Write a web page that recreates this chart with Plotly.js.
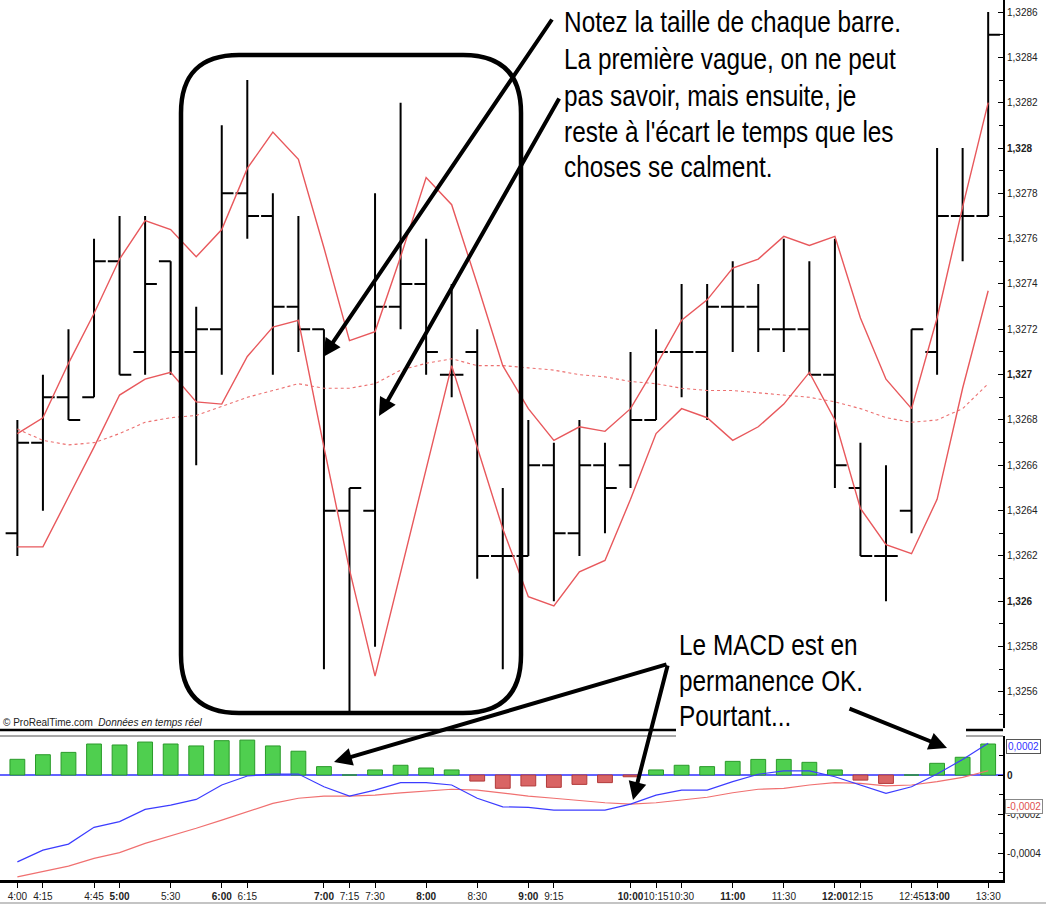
<!DOCTYPE html>
<html><head><meta charset="utf-8">
<script src="https://cdn.plot.ly/plotly-3.0.1.min.js"></script>
<style>html,body{margin:0;padding:0;background:#fff}#c{width:1046px;height:905px}</style>
</head><body><div id="c"></div>
<script>
const times = ['4:00','4:15','4:30','4:45','5:00','5:15','5:30','5:45','6:00','6:15','6:30','6:45','7:00','7:15','7:30','7:45','8:00','8:15','8:30','8:45','9:00','9:15','9:30','9:45','10:00','10:15','10:30','10:45','11:00','11:15','11:30','11:45','12:00','12:15','12:30','12:45','13:00','13:15','13:30'];
const opens  = [1.3263,1.3267,1.3269,1.3269,1.3275,1.3271,1.3275,1.3271,1.3272,1.3278,1.3277,1.3273,1.3272,1.3264,1.3264,1.3273,1.3274,1.3270,1.3271,1.3262,1.3262,1.3266,1.3263,1.3266,1.3266,1.3268,1.3271,1.3271,1.3273,1.3273,1.3272,1.3272,1.3270,1.3265,1.3262,1.3264,1.3271,1.3277,1.3277];
const highs  = [1.3268,1.3270,1.3272,1.3276,1.3277,1.3277,1.3275,1.3273,1.3281,1.3283,1.3278,1.3277,1.3272,1.3265,1.3278,1.3282,1.3276,1.3274,1.3272,1.3265,1.3268,1.3267,1.3268,1.3267,1.3271,1.3272,1.3274,1.3274,1.3275,1.3274,1.3276,1.3275,1.3276,1.3267,1.3266,1.3272,1.3280,1.3280,1.3286];
const lows   = [1.3262,1.3264,1.3268,1.3269,1.3270,1.3270,1.3270,1.3266,1.3270,1.3276,1.3270,1.3271,1.3257,1.3255,1.3258,1.3272,1.3270,1.3269,1.3261,1.3257,1.3262,1.3260,1.3262,1.3263,1.3265,1.3268,1.3269,1.3268,1.3271,1.3271,1.3271,1.3270,1.3265,1.3262,1.3260,1.3263,1.3270,1.3275,1.3277];
const closes = [1.3267,1.3269,1.3268,1.3275,1.3270,1.3274,1.3271,1.3272,1.3278,1.3277,1.3273,1.3272,1.3264,1.3265,1.3273,1.3274,1.3271,1.3270,1.3262,1.3262,1.3266,1.3263,1.3266,1.3265,1.3268,1.3271,1.3271,1.3273,1.3273,1.3272,1.3272,1.3270,1.3266,1.3262,1.3262,1.3272,1.3277,1.3277,1.3285];
const upperBand = [1.32674,1.32681,1.32705,1.32727,1.32751,1.32768,1.32764,1.32752,1.32764,1.32791,1.32807,1.32795,1.32756,1.32715,1.32719,1.32752,1.32787,1.32775,1.3274,1.32704,1.32685,1.32671,1.32677,1.32675,1.32685,1.32704,1.32724,1.32733,1.32747,1.32751,1.32761,1.32757,1.32761,1.32725,1.32698,1.32685,1.32725,1.32774,1.3282];
const lowerBand = [1.32624,1.32624,1.32646,1.32668,1.32691,1.32698,1.32701,1.32688,1.32687,1.32708,1.32721,1.32724,1.32668,1.32614,1.32567,1.32613,1.32658,1.32704,1.32668,1.32632,1.32602,1.32598,1.32613,1.32618,1.32645,1.32674,1.32685,1.32681,1.32671,1.32677,1.32687,1.32701,1.3268,1.32641,1.32625,1.32621,1.32645,1.32694,1.32737];
const slowMA = [1.32676,1.32671,1.32669,1.3267,1.32674,1.32679,1.32681,1.32682,1.32686,1.3269,1.32693,1.32696,1.32694,1.32694,1.32696,1.32702,1.32705,1.32707,1.32704,1.32704,1.32703,1.32702,1.327,1.32699,1.32697,1.32696,1.32694,1.32693,1.32693,1.32692,1.32691,1.3269,1.32688,1.32685,1.32681,1.32679,1.3268,1.32685,1.32696];
const macd = [-0.000445,-0.000385,-0.000354,-0.000268,-0.000239,-0.000176,-0.000154,-0.000125,-0.000051,-0.000005,0.000005,0.000005,-0.00006,-0.000108,-0.000077,-0.000039,-0.000039,-0.000051,-0.000119,-0.000163,-0.000166,-0.00018,-0.00018,-0.00018,-0.000149,-0.000103,-0.000077,-0.000077,-0.000034,0.000004,0.000021,0.000021,-0.000009,-0.000051,-0.000094,-0.00006,0.000005,0.00008,0.000163];
const signal = [-0.000522,-0.000496,-0.000467,-0.000427,-0.000398,-0.00035,-0.000313,-0.000273,-0.000231,-0.000188,-0.000145,-0.000119,-0.000108,-0.000108,-0.000103,-0.000091,-0.000081,-0.000073,-0.000077,-0.000094,-0.000108,-0.000119,-0.000132,-0.000142,-0.000149,-0.000142,-0.000128,-0.000114,-0.000091,-0.000073,-0.000068,-0.000051,-0.000039,-0.000043,-0.000056,-0.000051,-0.000034,-0.000012,0.000022];
const histo = [0.0000805,0.000104,0.000116,0.000159,0.000154,0.000169,0.000159,0.000149,0.000176,0.000179,0.000149,0.000122,0.000043,0,0.000026,0.00005,0.000036,0.000026,-0.000031,-0.000068,-0.000056,-0.000063,-0.000048,-0.000039,-0.000009,0.000026,0.00005,0.000043,0.00007,0.00008,0.00008,0.000065,0.000026,-0.000026,-0.000043,0,0.00006,0.000091,0.000159];
const xTickLabels = ['4:00','4:15','4:45','5:00','5:30','6:00','6:15','7:00','7:15','7:30','8:00','8:30','9:00','9:15','10:00','10:15','10:30','11:00','11:30','12:00','12:15','12:45','13:00','13:30'];
const boldXTicks = ['5:00','6:00','7:00','8:00','9:00','10:00','11:00','12:00','13:00'];
const priceTicks = [1.3256,1.3258,1.326,1.3262,1.3264,1.3266,1.3268,1.327,1.3272,1.3274,1.3276,1.3278,1.328,1.3282,1.3284,1.3286];
const priceTickText = ['1,3256','1,3258','<b>1,326</b>','1,3262','1,3264','1,3266','1,3268','<b>1,327</b>','1,3272','1,3274','1,3276','1,3278','<b>1,328</b>','1,3282','1,3284','1,3286'];
const priceMinor = [1.3255,1.3257,1.3259,1.3261,1.3263,1.3265,1.3267,1.3269,1.3271,1.3273,1.3275,1.3277,1.3279,1.3281,1.3283,1.3285];
const macdTicks = [0,-0.0002,-0.0004];
const macdTickText = ['<b>0</b>','-0,0002','-0,0004'];
const macdMinor = [0.0001,-0.0001,-0.0003,-0.0005];
const note1 = ['Notez la taille de chaque barre.','La première vague, on ne peut','pas savoir, mais ensuite, je',"reste à l'écart le temps que les",'choses se calment.'];
const note2 = ['Le MACD est en','permanence OK.','Pourtant...'];

const W=1046,H=905;
const PX=x=>x/W, PY=y=>1-y/H;
const SANS='Liberation Sans, Arial, sans-serif';

const traces = [
  {type:'scatter',mode:'lines',x:times,y:slowMA,xaxis:'x',yaxis:'y',line:{color:'#ec7070',width:1.1,dash:'dot'},hoverinfo:'skip'},
  {type:'scatter',mode:'lines',x:times,y:upperBand,xaxis:'x',yaxis:'y',line:{color:'#e8585c',width:1.4},hoverinfo:'skip'},
  {type:'scatter',mode:'lines',x:times,y:lowerBand,xaxis:'x',yaxis:'y',line:{color:'#e8585c',width:1.4},hoverinfo:'skip'},
  {type:'ohlc',x:times,open:opens,high:highs,low:lows,close:closes,xaxis:'x',yaxis:'y',tickwidth:0.46,
   increasing:{line:{color:'#000',width:2}},decreasing:{line:{color:'#000',width:2}},hoverinfo:'skip'},
  {type:'bar',x:times,y:histo,xaxis:'x',yaxis:'y2',width:0.58,
   marker:{color:histo.map(v=>v>=0?'#4fcf4f':'#d96464'),line:{color:histo.map(v=>v>=0?'#2a9a2a':'#b23a3a'),width:1}},hoverinfo:'skip'},
  {type:'scatter',mode:'lines',x:times,y:signal,xaxis:'x',yaxis:'y2',line:{color:'#f07070',width:1.2},hoverinfo:'skip'},
  {type:'scatter',mode:'lines',x:times,y:macd,xaxis:'x',yaxis:'y2',line:{color:'#3c3cff',width:1.2},hoverinfo:'skip'}
];

const r=58, L=181, R=521, T=55, B=713;
const P=(x,y)=>PX(x).toFixed(5)+','+PY(y).toFixed(5);
const rectPath = 'M'+P(L+r,T)+' L'+P(R-r,T)+' Q'+P(R,T)+' '+P(R,T+r)+' L'+P(R,B-r)+' Q'+P(R,B)+' '+P(R-r,B)+
  ' L'+P(L+r,B)+' Q'+P(L,B)+' '+P(L,B-r)+' L'+P(L,T+r)+' Q'+P(L,T)+' '+P(L+r,T)+' Z';

const hline=(x0,x1,y,color,w)=>({type:'line',xref:'paper',yref:'paper',x0:PX(x0),x1:PX(x1),y0:PY(y),y1:PY(y),line:{color:color,width:w}});
const shapes = [
  {type:'line',xref:'paper',x0:0,x1:PX(1003),yref:'y2',y0:0,y1:0,line:{color:'#2f2fff',width:1.3},layer:'below'},
  hline(0,676,730,'#000',2.5), hline(0,676,736,'#8a8a8a',1.5),
  hline(966,1003,730,'#000',2.5), hline(966,1003,736,'#8a8a8a',1.5),
  hline(0,1046,903,'#b0b0b0',1.5),
  {type:'path',xref:'paper',yref:'paper',path:rectPath,line:{color:'#000',width:4.5}}
];

const arrow=(hx,hy,tx,ty)=>({xref:'paper',yref:'paper',x:PX(hx),y:PY(hy),ax:tx-hx,ay:ty-hy,text:'',showarrow:true,
  arrowhead:2,arrowsize:0.9,arrowwidth:4,arrowcolor:'#000',standoff:0,startstandoff:0});
const annotations = [
  arrow(323,357,553,18), arrow(379,416,560,97), arrow(334,762,668,664), arrow(633,800,668,664), arrow(947,748,848,708),
  {xref:'paper',yref:'paper',x:PX(1),y:PY(722),xanchor:'left',yanchor:'middle',showarrow:false,
   text:'© ProRealTime.com  <i>Données en temps réel</i>',font:{family:SANS,size:10,color:'#222'}},
  {xref:'paper',yref:'paper',x:PX(1006),y:PY(746),xanchor:'left',yanchor:'middle',showarrow:false,text:'0,0002',
   font:{family:SANS,size:10,color:'#3030ff'},bgcolor:'#fff',bordercolor:'#555',borderwidth:1,borderpad:1},
  {xref:'paper',yref:'paper',x:PX(1005),y:PY(806),xanchor:'left',yanchor:'middle',showarrow:false,text:'-0,0002',
   font:{family:SANS,size:10,color:'#e05050'},bgcolor:'#fff',bordercolor:'#888',borderwidth:1,borderpad:1}
];
const n1y=[22,59,96,132,167];
note1.forEach((t,i)=>annotations.push({xref:'paper',yref:'paper',x:PX(562),y:PY(n1y[i]),xanchor:'left',yanchor:'middle',
  showarrow:false,text:t,font:{family:SANS,size:29,color:'#000'}}));
const n2y=[645,681,716];
note2.forEach((t,i)=>annotations.push({xref:'paper',yref:'paper',x:PX(677),y:PY(n2y[i]),xanchor:'left',yanchor:'middle',
  showarrow:false,text:t,font:{family:SANS,size:29,color:'#000'}}));

const layout = {
  width:W,height:H,margin:{l:0,r:0,t:0,b:0},paper_bgcolor:'#fff',plot_bgcolor:'#fff',showlegend:false,
  font:{family:SANS,size:10,color:'#222'},
  xaxis:{type:'category',categoryorder:'array',categoryarray:times,domain:[0,PX(1003)],anchor:'y2',range:[-0.68,38.58],
    tickmode:'array',tickvals:xTickLabels,ticktext:xTickLabels.map(t=>boldXTicks.includes(t)?'<b>'+t+'</b>':t),tickangle:0,
    ticks:'outside',ticklen:5,tickcolor:'#000',tickwidth:1,showline:true,linecolor:'#000',linewidth:2.5,
    showgrid:false,zeroline:false,rangeslider:{visible:false},tickfont:{family:SANS,size:10,color:'#222'},fixedrange:true},
  yaxis:{domain:[PY(728),1],anchor:'x',side:'right',range:[1.325441,1.328653],tickmode:'array',tickvals:priceTicks,ticktext:priceTickText,
    ticks:'inside',ticklen:5,tickcolor:'#000',showline:true,linecolor:'#000',linewidth:2,showgrid:false,zeroline:false,
    minor:{tickvals:priceMinor,ticks:'inside',ticklen:4,tickcolor:'#000'},tickfont:{family:SANS,size:10,color:'#222'},fixedrange:true},
  yaxis2:{domain:[PY(880),PY(736)],anchor:'x',side:'right',range:[-0.000538,0.0002],tickmode:'array',tickvals:macdTicks,ticktext:macdTickText,
    ticks:'inside',ticklen:5,tickcolor:'#000',showline:true,linecolor:'#000',linewidth:2,showgrid:false,zeroline:false,
    minor:{tickvals:macdMinor,ticks:'inside',ticklen:4,tickcolor:'#000'},tickfont:{family:SANS,size:10,color:'#222'},fixedrange:true},
  shapes:shapes,annotations:annotations,bargap:0.4
};
Plotly.newPlot('c',traces,layout,{staticPlot:true,displayModeBar:false}).then(gd=>{
  const notes = note1.concat(note2);
  gd.querySelectorAll('text.annotation-text').forEach(el=>{
    if(!notes.includes(el.textContent)) return;
    const bb = el.getBBox();
    const prev = el.getAttribute('transform')||'';
    el.setAttribute('transform', prev+' translate('+bb.x+',0) scale(0.84,1) translate('+(-bb.x)+',0)');
  });
});
</script></body></html>
